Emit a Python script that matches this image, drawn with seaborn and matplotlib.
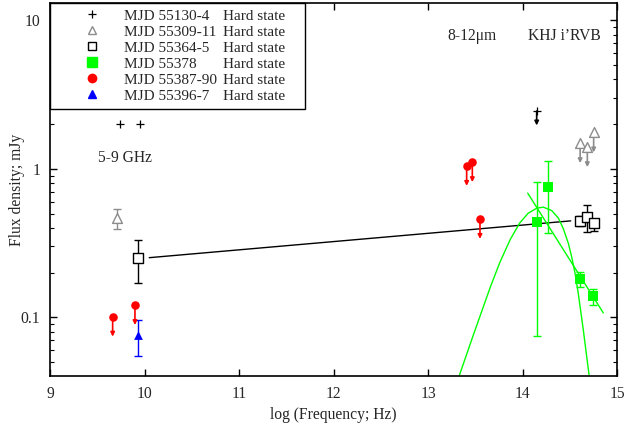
import matplotlib
matplotlib.use('Agg')
import matplotlib.pyplot as plt
from matplotlib.lines import Line2D
from matplotlib.legend_handler import HandlerLine2D
from matplotlib.ticker import LogLocator, FuncFormatter, NullFormatter, MultipleLocator
import seaborn as sns
import numpy as np

# ---------------------------------------------------------------------------
# data (x = log frequency / Hz, y = flux density / mJy)
# ---------------------------------------------------------------------------
# MJD 55130-4 (black plus)
plus_x = [9.74, 9.95]
plus_y = [2.0, 2.0]
plus_lim_x = [14.15]
plus_lim_y = [2.45]

# MJD 55309-11 (grey open triangle)
tri_x = [9.706]
tri_y = [0.465]
tri_lo = [0.394]
tri_hi = [0.535]
tri_lim_x = [14.61, 14.686, 14.753]
tri_lim_y = [1.49, 1.40, 1.76]

# MJD 55364-5 (black open square)
sq_x = [9.928, 14.608, 14.683, 14.753]
sq_y = [0.252, 0.448, 0.477, 0.430]
sq_lo = [0.171, 0.41, 0.378, 0.382]
sq_hi = [0.332, 0.48, 0.572, 0.458]

# MJD 55378 (green filled square)
gr_x = [14.153, 14.273, 14.608, 14.75]
gr_y = [0.441, 0.760, 0.181, 0.138]
gr_lo = [0.075, 0.368, 0.161, 0.121]
gr_hi = [0.813, 1.137, 0.203, 0.155]

# MJD 55387-90 (red circle, upper limits)
red_x = [9.663, 9.899, 13.409, 13.469, 13.55]
red_y = [0.101, 0.121, 1.047, 1.11, 0.46]

# MJD 55396-7 (blue triangle)
blue_x = [9.928]
blue_y = [0.076]
blue_lo = [0.055]
blue_hi = [0.096]

# model lines
pl_x = [10.05, 14.51]
pl_y = [0.252, 0.446]
ir_x = [14.055, 14.855]
ir_y = [0.686, 0.107]
bb_x = [13.31, 13.48, 13.66, 13.76, 13.87, 13.97, 14.06, 14.15, 14.22,
        14.31, 14.38, 14.43, 14.485, 14.52, 14.556, 14.59, 14.643, 14.704]
bb_y = [0.037, 0.076, 0.160, 0.234, 0.334, 0.431, 0.502, 0.543, 0.552,
        0.523, 0.465, 0.398, 0.315, 0.256, 0.198, 0.145, 0.0826, 0.041]

labels = ['MJD 55130-4', 'MJD 55309-11', 'MJD 55364-5',
          'MJD 55378', 'MJD 55387-90', 'MJD 55396-7']

GREEN = '#00ff00'
RED = '#ff0000'
BLUE = '#0000ff'
GREY = '#8c8c8c'

sns.set_theme(style='ticks')
plt.rcParams['font.family'] = ['Liberation Serif', 'DejaVu Serif']
FS = 11.25
LFS = 11

fig = plt.figure(figsize=(6.4, 4.26), dpi=100)
ax = fig.add_axes([50 / 640, 1 - 376 / 426, 567 / 640, 373 / 426])


def limit_arrows(xs, ys, color, factor=0.733):
    for x, y in zip(xs, ys):
        ax.annotate('', xy=(x, y * factor), xytext=(x, y),
                    arrowprops=dict(arrowstyle='-|>', color=color, lw=1.2,
                                    mutation_scale=6, shrinkA=0, shrinkB=0),
                    zorder=2)


def err(xs, ys, lo, hi, color):
    ax.errorbar(xs, ys, yerr=[np.subtract(ys, lo), np.subtract(hi, ys)],
                fmt='none', ecolor=color, elinewidth=1, capsize=3,
                capthick=1, zorder=2)


# model curves
sns.lineplot(x=pl_x, y=pl_y, color='black', lw=1, ax=ax, sort=False)
sns.lineplot(x=ir_x, y=ir_y, color=GREEN, lw=1, ax=ax, sort=False)
sns.lineplot(x=bb_x, y=bb_y, color=GREEN, lw=1, ax=ax, sort=False)

# error bars and upper limits
err(tri_x, tri_y, tri_lo, tri_hi, GREY)
err(sq_x, sq_y, sq_lo, sq_hi, 'black')
err(gr_x, gr_y, gr_lo, gr_hi, GREEN)
err(blue_x, blue_y, blue_lo, blue_hi, BLUE)
limit_arrows(red_x, red_y, RED)
limit_arrows(tri_lim_x, tri_lim_y, GREY)
limit_arrows(plus_lim_x, plus_lim_y, 'black', factor=0.80)

# points
sns.scatterplot(x=plus_x + plus_lim_x, y=plus_y + plus_lim_y, marker='+',
                color='black', s=40, linewidth=0.9, ax=ax, zorder=3)
sns.scatterplot(x=tri_x + tri_lim_x, y=tri_y + tri_lim_y, marker='^',
                facecolor='white', edgecolor=GREY, s=50, linewidth=1,
                ax=ax, zorder=3)
sns.scatterplot(x=sq_x, y=sq_y, marker='s', facecolor='white',
                edgecolor='black', s=50, linewidth=1, ax=ax, zorder=3)
sns.scatterplot(x=gr_x, y=gr_y, marker='s', color=GREEN, edgecolor=GREEN,
                s=60, linewidth=0, ax=ax, zorder=3)
sns.scatterplot(x=red_x, y=red_y, marker='o', color=RED, edgecolor=RED,
                s=38, linewidth=0, ax=ax, zorder=3)
sns.scatterplot(x=blue_x, y=blue_y, marker='^', color=BLUE, edgecolor=BLUE,
                s=40, linewidth=0, ax=ax, zorder=3)

ax.set_yscale('log')
ax.set_xlim(9, 15)
ax.set_ylim(0.0402, 13.1)
ax.xaxis.set_major_locator(MultipleLocator(1))
ax.yaxis.set_major_locator(LogLocator(base=10, numticks=10))
ax.yaxis.set_minor_locator(LogLocator(base=10, subs=np.arange(2, 10), numticks=20))
ax.yaxis.set_major_formatter(FuncFormatter(lambda v, _: f'{v:g}'))
ax.yaxis.set_minor_formatter(NullFormatter())
ax.tick_params(which='both', direction='in', top=True, right=True,
               labelsize=FS, pad=7, color='black')
ax.tick_params(which='major', length=5, width=1)
ax.tick_params(which='minor', length=3, width=0.8)
for sp in ax.spines.values():
    sp.set_color('black')
    sp.set_linewidth(1.2)

ax.set_xlabel('log (Frequency; Hz)', fontsize=FS, labelpad=4)
ax.set_ylabel('Flux density; mJy', fontsize=FS, labelpad=-3)

ax.text(9.79, 1.19, '5-9 GHz', fontsize=FS, ha='center', va='center')
ax.text(13.2, 7.9, '8-12μm', fontsize=FS, ha='left', va='center')
ax.text(14.058, 7.9, 'KHJ i\u2019RVB', fontsize=FS, ha='left', va='center')

# legend
handles = [
    Line2D([], [], ls='none', marker='+', color='black', ms=6, mew=0.9),
    Line2D([], [], ls='none', marker='^', mfc='white', mec=GREY, ms=6, mew=1),
    Line2D([], [], ls='none', marker='s', mfc='white', mec='black', ms=6, mew=1),
    Line2D([], [], ls='none', marker='s', mfc=GREEN, mec=GREEN, ms=7),
    Line2D([], [], ls='none', marker='o', mfc=RED, mec=RED, ms=6),
    Line2D([], [], ls='none', marker='^', mfc=BLUE, mec=BLUE, ms=5.5),
]
hmap = {h: HandlerLine2D(numpoints=1, xpad=0.66) for h in handles}
leg = ax.legend(handles, labels, loc='upper left', bbox_to_anchor=(0, 1, 0.45, 0),
                mode='expand', borderaxespad=0, fontsize=LFS, frameon=True,
                fancybox=False, edgecolor='black', framealpha=1,
                handlelength=4.05, handletextpad=0.4, borderpad=0.4,
                labelspacing=0.15, handler_map=hmap)
leg.get_frame().set_linewidth(1.0)

fig.canvas.draw()
for t in leg.get_texts():
    bb = t.get_window_extent()
    ax.annotate('Hard state', xy=(0.305, bb.y0), xycoords=('axes fraction', 'figure pixels'),
                fontsize=LFS, ha='left', va='bottom', zorder=6)

fig.savefig('out.png', dpi=100)
